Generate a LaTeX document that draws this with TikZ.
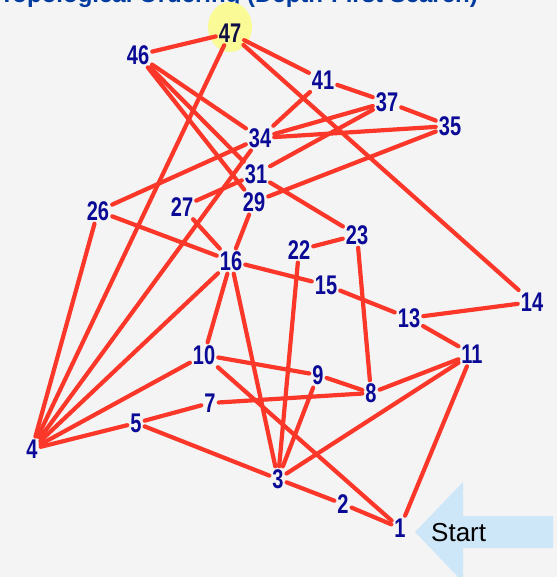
\documentclass[tikz,border=0pt]{standalone}
\usepackage{fontspec}
\setmainfont{Liberation Sans}
\definecolor{bgray}{RGB}{244,244,244}
\definecolor{edgered}{RGB}{250,55,40}
\definecolor{lblblue}{RGB}{10,10,150}
\definecolor{darknavy}{RGB}{15,15,70}
\definecolor{titleblue}{RGB}{0,60,160}
\definecolor{hiyellow}{RGB}{250,250,150}
\definecolor{startblue}{RGB}{205,230,248}
\newcommand\lbtxt[1]{\scalebox{1}[1.35]{#1}}
\begin{document}
\begin{tikzpicture}[x=1pt,y=-1pt,
  lbl/.style={font=\fontsize{20}{20}\selectfont\bfseries, text=lblblue, inner sep=1.5pt},
  edge/.style={draw=edgered, line width=4.2pt, line cap=round, shorten <=1.5pt, shorten >=1.5pt}]
\useasboundingbox (0,0) rectangle (557,577);
\clip (0,0) rectangle (557,577);
\fill[bgray] (0,0) rectangle (557,577);
% title (clipped at top)
\node[anchor=base east, font=\fontsize{24}{24}\selectfont\bfseries, text=titleblue, inner sep=0pt] (title) at (478,3) {Topological Ordering (Depth-First Search)};
% highlight
\fill[hiyellow] (230,27) ellipse [x radius=22, y radius=25];
% start arrow
\fill[startblue] (415,532) -- (463,482) -- (463,516) -- (553,516) -- (553,548) -- (463,548) -- (463,582) -- cycle;
\node[font=\fontsize{26}{26}\selectfont, anchor=west, inner sep=0pt] (start) at (431,533) {Start};
% nodes
\node[lbl, text=darknavy] (n47) at (230,33) {\lbtxt{47}};
\node[lbl] (n46) at (138,55) {\lbtxt{46}};
\node[lbl] (n41) at (323,80) {\lbtxt{41}};
\node[lbl] (n37) at (387,102) {\lbtxt{37}};
\node[lbl] (n35) at (450,126) {\lbtxt{35}};
\node[lbl] (n34) at (260,138) {\lbtxt{34}};
\node[lbl] (n31) at (256,174) {\lbtxt{31}};
\node[lbl] (n29) at (254,202) {\lbtxt{29}};
\node[lbl] (n27) at (182,207) {\lbtxt{27}};
\node[lbl] (n26) at (98,211) {\lbtxt{26}};
\node[lbl] (n23) at (357,235) {\lbtxt{23}};
\node[lbl] (n22) at (299,250) {\lbtxt{22}};
\node[lbl] (n16) at (231,261) {\lbtxt{16}};
\node[lbl] (n15) at (326,285) {\lbtxt{15}};
\node[lbl] (n13) at (409,318) {\lbtxt{13}};
\node[lbl] (n14) at (532,302) {\lbtxt{14}};
\node[lbl] (n11) at (472,354) {\lbtxt{11}};
\node[lbl] (n10) at (204,355) {\lbtxt{10}};
\node[lbl] (n9) at (318,375) {\lbtxt{9}};
\node[lbl] (n8) at (371,393) {\lbtxt{8}};
\node[lbl] (n7) at (210,403) {\lbtxt{7}};
\node[lbl] (n5) at (136,423) {\lbtxt{5}};
\node[lbl] (n4) at (32,449) {\lbtxt{4}};
\node[lbl] (n3) at (278,479) {\lbtxt{3}};
\node[lbl] (n2) at (343,504) {\lbtxt{2}};
\node[lbl] (n1) at (400,528) {\lbtxt{1}};
% edges
\foreach \a/\b in {47/46,47/4,47/41,47/14,
  46/34,46/31,46/29,
  41/34,41/37,37/35,37/34,37/31,
  35/34,35/29,
  34/26,34/4,
  31/27,31/23,
  29/16,27/16,
  26/16,26/4,
  23/22,23/8,22/3,
  16/15,16/4,16/10,16/3,
  15/13,13/14,13/11,
  11/8,11/3,11/1,
  10/9,10/1,10/4,
  9/8,9/3,
  8/7,7/5,5/4,5/3,
  3/2,2/1}
  \draw[edge] (n\a) -- (n\b);
\end{tikzpicture}
\end{document}
